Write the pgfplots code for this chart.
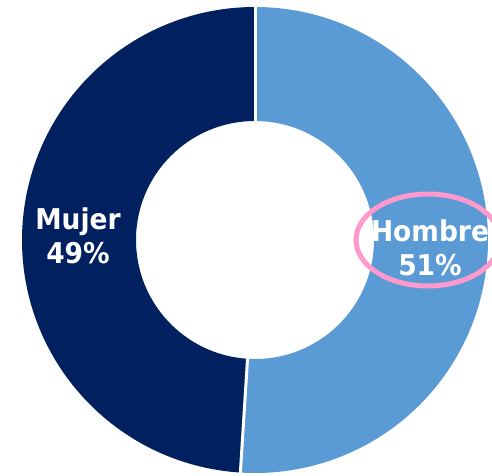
\documentclass[border=0pt]{standalone}
\usepackage{pgfplots}
\usepackage{pgfplotstable}
\pgfplotsset{compat=1.18}
\usepackage{fontspec}
\setmainfont{DejaVu Sans}
\definecolor{hombre}{RGB}{91,155,213}
\definecolor{mujer}{RGB}{0,32,96}
\definecolor{pinkmark}{RGB}{255,153,204}
\pgfplotstableread{
label value
Hombre 51
Mujer 49
}\sexdata
\begin{document}
\begin{tikzpicture}
\pgfplotstablegetelem{0}{value}\of\sexdata \let\vH\pgfplotsretval
\pgfplotstablegetelem{1}{value}\of\sexdata \let\vM\pgfplotsretval
\pgfmathsetmacro{\aEnd}{90-3.6*\vH}
\pgfmathsetmacro{\aEndM}{\aEnd-3.6*\vM}
\begin{axis}[
  scale only axis, width=492pt, height=475pt,
  xmin=0, xmax=492, ymin=0, ymax=475,
  hide axis, clip=true,
]
\begin{scope}[shift={(axis cs:255,235)}]
  \fill[hombre] (90:233pt) arc[start angle=90,end angle=\aEnd,radius=233pt]
     -- (\aEnd:119pt) arc[start angle=\aEnd,end angle=90,radius=119pt] -- cycle;
  \fill[mujer] (\aEnd:233pt) arc[start angle=\aEnd,end angle=\aEndM,radius=233pt]
     -- (\aEndM:119pt) arc[start angle=\aEndM,end angle=\aEnd,radius=119pt] -- cycle;
  \draw[white, line width=3pt] (90:117pt) -- (90:236pt);
  \draw[white, line width=3pt] (\aEnd:117pt) -- (\aEnd:236pt);
\end{scope}
\node[white, align=center, inner sep=0pt, yscale=1.08, transform shape,
      font=\fontsize{26.5}{31.5}\selectfont\bfseries]
  at (axis cs:78,239.5) {Mujer\\\vM\%};
\node[white, align=center, inner sep=0pt, yscale=1.08, transform shape,
      font=\fontsize{26.5}{31.5}\selectfont\bfseries]
  at (axis cs:430,227.5) {Hombre\\\vH\%};
\draw[pinkmark, line width=5pt] (axis cs:428,235) ellipse[x radius=72pt, y radius=46pt];
\end{axis}
\pgfresetboundingbox
\path (current axis.south west) rectangle (current axis.north east);
\end{tikzpicture}
\end{document}
